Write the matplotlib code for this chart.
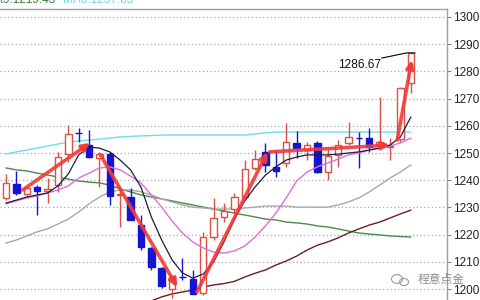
import numpy as np
import matplotlib
matplotlib.use("Agg")
import matplotlib.pyplot as plt
from matplotlib.patches import Ellipse

# ============================================================
# 数据：K 线 (开/高/低/收) + 均线
# ============================================================
opens = [1233.5, 1238.6, 1234.9, 1237.5, 1236.0, 1238.2, 1249.6, 1257.5, 1252.9, 1248.2,
         1249.6, 1234.4, 1233.8, 1223.5, 1215.1, 1207.7, 1200.0, 1204.5, 1203.7, 1198.5,
         1219.1, 1226.5, 1229.4, 1233.8, 1244.5, 1250.4, 1244.9, 1246.3, 1253.7, 1251.1,
         1253.7, 1243.0, 1249.3, 1253.7, 1255.6, 1255.5, 1252.9, 1252.2, 1255.1, 1275.7]
highs = [1242.3, 1243.4, 1237.9, 1238.2, 1240.8, 1250.4, 1260.3, 1259.2, 1258.5, 1250.4,
         1250.5, 1237.1, 1237.1, 1227.2, 1215.5, 1208.0, 1205.0, 1211.4, 1207.0, 1221.0,
         1233.5, 1231.6, 1235.3, 1247.4, 1251.1, 1253.7, 1251.1, 1261.0, 1258.1, 1254.0,
         1254.4, 1252.2, 1254.8, 1261.4, 1257.7, 1259.2, 1270.6, 1255.5, 1274.3, 1286.67]
lows = [1232.7, 1234.6, 1234.2, 1227.2, 1231.6, 1235.7, 1246.7, 1254.0, 1248.3, 1237.5,
        1230.9, 1222.8, 1225.2, 1214.3, 1207.0, 1200.4, 1196.7, 1203.3, 1198.2, 1197.8,
        1218.0, 1224.6, 1227.9, 1232.7, 1243.8, 1243.0, 1241.2, 1244.9, 1248.2, 1247.4,
        1242.6, 1240.1, 1244.9, 1252.9, 1244.5, 1250.4, 1252.9, 1247.4, 1254.0, 1272.1]
closes = [1239.0, 1235.3, 1237.1, 1236.0, 1236.8, 1248.5, 1257.0, 1257.3, 1248.5, 1249.6,
          1234.2, 1234.8, 1225.4, 1215.4, 1208.1, 1201.1, 1204.4, 1204.3, 1198.2, 1219.1,
          1226.1, 1228.7, 1233.8, 1244.1, 1247.8, 1245.6, 1243.4, 1254.0, 1251.8, 1252.9,
          1243.0, 1248.9, 1252.9, 1255.9, 1255.4, 1252.2, 1254.0, 1252.6, 1273.9, 1286.67]

ma_black = [1231.6, 1232.7, 1233.8, 1234.6, 1235.3, 1237.9, 1242.3, 1249.3, 1252.2, 1251.8,
            1250.4, 1247.4, 1243.8, 1237.5, 1226.5, 1218.0, 1210.7, 1205.9, 1204.0, 1205.5,
            1209.9, 1217.3, 1225.7, 1232.4, 1237.5, 1241.9, 1244.9, 1247.4, 1248.5, 1249.3,
            1249.3, 1249.3, 1249.6, 1250.0, 1250.4, 1251.1, 1251.8, 1252.9, 1255.9, 1263.2]
ma_pink = [1231.3, 1232.4, 1233.5, 1234.2, 1235.3, 1236.4, 1237.9, 1240.8, 1242.6, 1244.5,
           1244.9, 1243.8, 1241.5, 1239.0, 1234.6, 1230.1, 1225.0, 1220.6, 1217.3, 1215.1,
           1213.6, 1213.2, 1214.0, 1215.8, 1219.1, 1223.2, 1227.9, 1233.5, 1239.7, 1243.0,
           1244.9, 1246.3, 1247.8, 1249.3, 1250.0, 1251.1, 1251.8, 1252.6, 1253.7, 1255.5]
ma_gray = [1216.9, 1218.0, 1219.5, 1221.0, 1222.1, 1223.9, 1225.7, 1228.3, 1231.3, 1233.8,
           1235.7, 1236.4, 1236.4, 1235.7, 1234.6, 1233.1, 1232.0, 1230.9, 1230.1, 1229.8,
           1229.4, 1229.4, 1229.4, 1229.8, 1230.1, 1230.5, 1230.5, 1230.5, 1230.1, 1230.1,
           1230.1, 1230.1, 1230.9, 1232.0, 1233.5, 1235.7, 1238.2, 1240.8, 1243.0, 1245.6]
ma_green = [1244.5, 1243.8, 1243.4, 1242.6, 1241.9, 1241.2, 1240.4, 1239.7, 1239.3, 1239.0,
            1238.2, 1236.8, 1235.7, 1234.6, 1233.8, 1233.1, 1232.4, 1231.6, 1230.9, 1230.1,
            1229.4, 1228.7, 1227.9, 1227.2, 1226.5, 1225.7, 1225.4, 1224.6, 1224.3, 1223.9,
            1223.2, 1222.8, 1222.1, 1221.3, 1220.6, 1220.2, 1219.9, 1219.5, 1219.3, 1219.1]
ma_cyan = [1249.6, 1250.4, 1251.1, 1251.8, 1252.6, 1253.3, 1254.0, 1254.4, 1254.8, 1255.1,
           1255.5, 1255.9, 1256.1, 1256.3, 1256.4, 1256.6, 1256.6, 1256.6, 1256.6, 1256.6,
           1256.6, 1256.6, 1256.6, 1256.6, 1257.0, 1257.4, 1257.7, 1257.7, 1257.7, 1257.7,
           1257.7, 1257.7, 1257.7, 1257.7, 1257.7, 1257.7, 1257.7, 1257.7, 1257.7, 1257.7]
# 棕红长均线从第 15 根 K 线开始进入画面
maroon_start = 14
ma_maroon = [1195.6, 1197.1, 1198.2, 1198.9, 1199.6, 1200.7, 1201.5, 1202.0, 1202.8, 1204.4,
             1205.8, 1207.0, 1208.8, 1210.3, 1212.1, 1214.3, 1216.1, 1217.3, 1218.8, 1220.6,
             1222.1, 1223.5, 1224.6, 1226.1, 1227.6, 1229.0]

# 红色趋势箭头 (起点 x, 起点价, 终点 x, 终点价)
arrows = [
    (1.6, 1236.4, 8.1, 1253.7),
    (9.1, 1249.3, 16.5, 1200.7),
    (18.4, 1198.9, 25.2, 1250.4),
    (25.4, 1250.4, 37.0, 1252.9),
    (37.7, 1254.8, 39.1, 1284.2),
]

high_label = "1286.67"
yticks = list(range(1200, 1301, 10))
legend_texts = [("MA5:1219.43", "#3d7f3d"), ("MA6:1257.83", "#6fd6e8")]
watermark = "程意点金"

# ============================================================
# 画图
# ============================================================
plt.rcParams["font.family"] = ["Liberation Sans", "Noto Sans CJK SC", "DejaVu Sans"]

fig = plt.figure(figsize=(4.8, 3.0), dpi=100)
ax = fig.add_axes([0, 0, 447 / 480, 291 / 300])

x = np.arange(len(opens))
o = np.array(opens); c = np.array(closes)
h = np.array(highs); l = np.array(lows)
up = c >= o

RED = "#dc5046"
BLUE = "#1414d2"
colors = np.where(up, RED, BLUE)

# 影线
ax.vlines(x, l, h, colors=colors, linewidth=1.0, zorder=3)
# 实体
body_lo = np.minimum(o, c)
body_h = np.maximum(np.abs(c - o), 0.15)
ax.bar(x[up], body_h[up], bottom=body_lo[up], width=0.62,
       facecolor="white", edgecolor=RED, linewidth=1.0, zorder=4)
ax.bar(x[~up], body_h[~up], bottom=body_lo[~up], width=0.62,
       facecolor=BLUE, edgecolor=BLUE, linewidth=1.0, zorder=4)

# 均线
ax.plot(x, ma_cyan, color="#6fdcee", lw=1.0, zorder=2)
ax.plot(x, ma_green, color="#4a8a4a", lw=1.0, zorder=2)
ax.plot(x, ma_gray, color="#a8a8a8", lw=1.0, zorder=2)
ax.plot(x[maroon_start:], ma_maroon, color="#6e1e1e", lw=1.0, zorder=2)
ax.plot(x, ma_pink, color="#de6ede", lw=1.0, zorder=5)
ax.plot(x, ma_black, color="#1c1c3c", lw=0.9, zorder=5)

# 趋势箭头
for x0, y0, x1, y1 in arrows:
    ax.annotate("", xy=(x1, y1), xytext=(x0, y0),
                arrowprops=dict(arrowstyle="-|>", color="#f03a3a", lw=2.6,
                                mutation_scale=11, alpha=0.9, shrinkA=0, shrinkB=0),
                zorder=6)

# 最高价标注
ax.plot([36.2, 38.6, 39.4], [1284.9, 1286.8, 1286.8], color="black", lw=0.8, zorder=6)
ax.text(34.1, 1282.4, high_label, ha="center", va="center", fontsize=8.6,
        color="#111111", zorder=7)

# 坐标轴样式
ax.set_xlim(-0.58, 42.49)
ax.set_ylim(1195.96, 1302.94)
ax.set_xticks([])
ax.yaxis.tick_right()
ax.set_yticks(yticks)
ax.set_yticklabels([str(v) for v in yticks])
ax.tick_params(axis="y", length=3, pad=1.5, labelsize=8.5, colors="#222222",
               color="#888888")
ax.grid(axis="y", color="#a8a8a8", linestyle=(0, (1, 2)), linewidth=0.9)
ax.set_axisbelow(True)
for side in ["left", "bottom"]:
    ax.spines[side].set_visible(False)
for side in ["top", "right"]:
    ax.spines[side].set_color("#a0a0a0")
    ax.spines[side].set_linewidth(1.0)

# 顶部均线数值 (被截掉一半)
fig.text(55 / 480, 1.0, legend_texts[0][0], ha="right", va="center",
         fontsize=8.5, color=legend_texts[0][1])
fig.text(63 / 480, 1.0, legend_texts[1][0], ha="left", va="center",
         fontsize=8.5, color=legend_texts[1][1])

# 水印
for dx, dy, w in [(397, 279, 11), (404, 282, 9)]:
    fig.patches.append(Ellipse((dx / 480, 1 - dy / 300), w / 480, (w * 0.8) / 300,
                               transform=fig.transFigure, fill=False,
                               edgecolor="#9a9a9a", lw=0.8))
fig.text(441 / 480, 1 - 279 / 300, watermark, ha="center", va="center",
         fontsize=8.5, color="#8c8c8c", family=["Noto Sans CJK SC", "DejaVu Sans"])

fig.savefig("out.png", dpi=100)
plt.close()
